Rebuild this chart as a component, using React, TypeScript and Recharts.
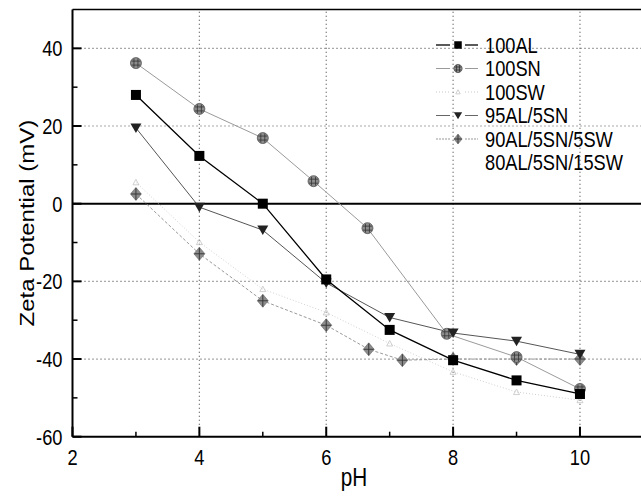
import React from 'react';
import { LineChart, Line, XAxis, YAxis, ReferenceLine, Legend, Label } from 'recharts';

// ---- data ----
const phAL = [3, 4, 5, 6, 7, 8, 9, 10];
const zetaAL = [28, 12.3, 0, -19.5, -32.5, -40.3, -45.5, -49];
const phSN = [3, 4, 5, 5.8, 6.65, 7.9, 9, 10];
const zetaSN = [36.2, 24.4, 16.9, 5.8, -6.3, -33.5, -39.5, -47.7];
const phSW = [3, 4, 5, 6, 7, 8, 9, 10];
const zetaSW = [5.5, -9.9, -22, -28, -36, -43.3, -48.5, -50.6];
const ph95 = [3, 4, 5, 6, 7, 8, 9, 10];
const zeta95 = [19.5, -0.9, -6.8, -20.4, -29.3, -33.3, -35.4, -38.8];
const ph90 = [3, 4, 5, 6, 6.67, 7.2, 8, 9, 10];
const zeta90 = [2.5, -12.9, -25, -31.3, -37.5, -40.3, -40, -40, -40];

const xTicks = [2, 3, 4, 5, 6, 7, 8, 9, 10, 11];
const yTicks = [-60, -50, -40, -30, -20, -10, 0, 10, 20, 30, 40];
const xGrid = [4, 6, 8, 10];
const yGrid = [40, 20, -20, -40];
const legendNames = ['100AL', '100SN', '100SW', '95AL/5SN', '90AL/5SN/5SW', '80AL/5SN/15SW'];

const zip = (xs: number[], ys: number[]) => xs.map((ph, i) => ({ ph, zeta: ys[i] }));
const dataAL = zip(phAL, zetaAL);
const dataSN = zip(phSN, zetaSN);
const dataSW = zip(phSW, zetaSW);
const data95 = zip(ph95, zeta95);
const data90 = zip(ph90, zeta90);

const FONT = '"Liberation Sans", Arial, Helvetica, sans-serif';
const SX = 0.83;

// ---- marker shapes ----
const SquareMark = ({ cx, cy, s = 1 }: any) => (
  <rect x={cx - 5 * s} y={cy - 5 * s} width={10 * s} height={10 * s} fill="#000" />
);
const CircleMark = ({ cx, cy, s = 1 }: any) => (
  <g>
    <circle cx={cx} cy={cy} r={5.5 * s} fill="#8c8c8c" stroke="#555" strokeWidth={0.8} />
    <line x1={cx - 2 * s} y1={cy - 4.5 * s} x2={cx - 2 * s} y2={cy + 4.5 * s} stroke="#333" strokeWidth={0.8} />
    <line x1={cx + 2 * s} y1={cy - 4.5 * s} x2={cx + 2 * s} y2={cy + 4.5 * s} stroke="#333" strokeWidth={0.8} />
    <line x1={cx - 4.5 * s} y1={cy - 2 * s} x2={cx + 4.5 * s} y2={cy - 2 * s} stroke="#333" strokeWidth={0.8} />
    <line x1={cx - 4.5 * s} y1={cy + 2 * s} x2={cx + 4.5 * s} y2={cy + 2 * s} stroke="#333" strokeWidth={0.8} />
  </g>
);
const TriDownMark = ({ cx, cy, s = 1 }: any) => (
  <polygon
    points={`${cx - 5.5 * s},${cy - 4.5 * s} ${cx + 5.5 * s},${cy - 4.5 * s} ${cx},${cy + 5 * s}`}
    fill="#222"
  />
);
const DiamondMark = ({ cx, cy, s = 1 }: any) => (
  <g>
    <polygon
      points={`${cx},${cy - 6.5 * s} ${cx + 5.5 * s},${cy} ${cx},${cy + 6.5 * s} ${cx - 5.5 * s},${cy}`}
      fill="#8c8c8c"
      stroke="#666"
      strokeWidth={0.6}
    />
    <line x1={cx} y1={cy - 6 * s} x2={cx} y2={cy + 6 * s} stroke="#333" strokeWidth={0.9} />
    <line x1={cx - 5 * s} y1={cy} x2={cx + 5 * s} y2={cy} stroke="#333" strokeWidth={0.9} />
  </g>
);
const SmallTriMark = ({ cx, cy, s = 1 }: any) => (
  <polygon
    points={`${cx - 3 * s},${cy + 2.5 * s} ${cx + 3 * s},${cy + 2.5 * s} ${cx},${cy - 3 * s}`}
    fill="none"
    stroke="#c4c4c4"
    strokeWidth={0.8}
  />
);

const mk = (Comp: any) => (p: any) =>
  p.cx == null || p.cy == null ? <g key={p.index} /> : <Comp key={p.index} cx={p.cx} cy={p.cy} />;

// ---- axes ----
const XTick = (props: any) => {
  const { x, y, payload } = props;
  const v = payload.value;
  const major = v % 2 === 0;
  return (
    <g>
      <line x1={x} y1={y} x2={x} y2={y - (major ? 10 : 5)} stroke="#000" strokeWidth={major ? 2 : 1.5} />
      {major && (
        <text
          x={x}
          y={y + 28}
          textAnchor="middle"
          fontSize={22}
          fontFamily={FONT}
          fill="#000"
          transform={`translate(${x} 0) scale(${SX} 1) translate(${-x} 0)`}
        >
          {v}
        </text>
      )}
    </g>
  );
};

const YTick = (props: any) => {
  const { x, y, payload } = props;
  const v = payload.value;
  const major = v % 20 === 0;
  const tx = x - 10;
  return (
    <g>
      <line x1={x} y1={y} x2={x + (major ? 9 : 5)} y2={y} stroke="#000" strokeWidth={major ? 2 : 1.5} />
      {major && (
        <text
          x={tx}
          y={y + 8}
          textAnchor="end"
          fontSize={22}
          fontFamily={FONT}
          fill="#000"
          transform={`translate(${tx} 0) scale(${SX} 1) translate(${-tx} 0)`}
        >
          {v}
        </text>
      )}
    </g>
  );
};

const YTitle = (props: any) => {
  const vb = props.viewBox || {};
  const cy = (vb.y ?? 9.5) + (vb.height ?? 427.2) / 2;
  const cx = 27;
  return (
    <g opacity={0.999}>
      <text
        x={0}
        y={0}
        transform={`translate(${cx} ${cy}) scale(${SX} 1) rotate(-90)`}
        textAnchor="middle"
        dominantBaseline="central"
        fontSize={24}
        fontFamily={FONT}
        fill="#000"
      >
        Zeta Potential (mV)
      </text>
    </g>
  );
};

const XTitle = (props: any) => {
  const vb = props.viewBox || {};
  const cx = (vb.x ?? 72.5) + (vb.width ?? 571) / 2 - 4;
  const by = (vb.y ?? 436.7) + 49;
  return (
    <text
      x={cx}
      y={by}
      textAnchor="middle"
      fontSize={25}
      fontFamily={FONT}
      fill="#000"
      transform={`translate(${cx} 0) scale(${SX} 1) translate(${-cx} 0)`}
    >
      pH
    </text>
  );
};

// ---- legend ----
const legendStyles = [
  { stroke: '#000', width: 1.3, dash: undefined, Mark: SquareMark },
  { stroke: '#9a9a9a', width: 1, dash: undefined, Mark: CircleMark },
  { stroke: '#c8c8c8', width: 1, dash: '1 2', Mark: SmallTriMark },
  { stroke: '#666', width: 1, dash: undefined, Mark: TriDownMark },
  { stroke: '#999', width: 1, dash: '2 1', Mark: DiamondMark },
  null,
];

const renderLegend = () => (
  <svg width={211} height={150} style={{ display: 'block', overflow: 'visible' }}>
    {legendNames.map((name, i) => {
      const cy = 15 + i * 23.5;
      const st = legendStyles[i];
      const tx = 55;
      return (
        <g key={name}>
          {st && (
            <>
              <line x1={6} y1={cy} x2={20} y2={cy} stroke={st.stroke} strokeWidth={st.width} strokeDasharray={st.dash} />
              <line x1={35} y1={cy} x2={48} y2={cy} stroke={st.stroke} strokeWidth={st.width} strokeDasharray={st.dash} />
              <st.Mark cx={28} cy={cy} s={0.75} />
            </>
          )}
          <text
            x={tx}
            y={cy + 8}
            fontSize={22}
            fontFamily={FONT}
            fill="#000"
            transform={`translate(${tx} 0) scale(${SX} 1) translate(${-tx} 0)`}
          >
            {name}
          </text>
        </g>
      );
    })}
  </svg>
);

export default function App() {
  return (
    <div
      style={{
        position: 'absolute',
        left: 0,
        top: 0,
        width: 641,
        height: 497,
        overflow: 'hidden',
        background: '#fff',
      }}
    >
      <LineChart width={645} height={497} margin={{ top: 9.5, right: 1.6, bottom: 0.3, left: 0 }}>
        <XAxis
          type="number"
          dataKey="ph"
          domain={[2, 11]}
          ticks={xTicks}
          interval={0}
          tickLine={false}
          tickSize={0}
          tickMargin={0}
          tick={XTick}
          axisLine={{ stroke: '#000', strokeWidth: 2 }}
          height={60}
          allowDataOverflow
        >
          <Label content={XTitle} />
        </XAxis>
        <YAxis
          type="number"
          domain={[-60, 50]}
          ticks={yTicks}
          interval={0}
          tickLine={false}
          tickSize={0}
          tickMargin={0}
          tick={YTick}
          axisLine={{ stroke: '#000', strokeWidth: 2 }}
          width={72.5}
          allowDataOverflow
        >
          <Label content={YTitle} />
        </YAxis>
        {xGrid.map((v) => (
          <ReferenceLine key={`gx${v}`} x={v} stroke="#555" strokeWidth={1.2} strokeDasharray="1 3" />
        ))}
        {yGrid.map((v) => (
          <ReferenceLine key={`gy${v}`} y={v} stroke="#555" strokeWidth={1.2} strokeDasharray="1 3" />
        ))}
        <ReferenceLine y={50} stroke="#000" strokeWidth={1.5} />
        <ReferenceLine y={0} stroke="#000" strokeWidth={2} />
        <Line data={dataSW} dataKey="zeta" type="linear" stroke="#d0d0d0" strokeWidth={1} strokeDasharray="1 2" dot={mk(SmallTriMark)} activeDot={false} isAnimationActive={false} />
        <Line data={data90} dataKey="zeta" type="linear" stroke="#999" strokeWidth={1} strokeDasharray="3 2" dot={mk(DiamondMark)} activeDot={false} isAnimationActive={false} />
        <Line data={dataSN} dataKey="zeta" type="linear" stroke="#9a9a9a" strokeWidth={1} dot={mk(CircleMark)} activeDot={false} isAnimationActive={false} />
        <Line data={data95} dataKey="zeta" type="linear" stroke="#555" strokeWidth={1} dot={mk(TriDownMark)} activeDot={false} isAnimationActive={false} />
        <Line data={dataAL} dataKey="zeta" type="linear" stroke="#000" strokeWidth={1.3} dot={mk(SquareMark)} activeDot={false} isAnimationActive={false} />
        <Legend
          content={renderLegend}
          layout="vertical"
          align="center"
          verticalAlign="middle"
          wrapperStyle={{ left: 430, top: 30, width: 211, height: 150 }}
        />
      </LineChart>
    </div>
  );
}
